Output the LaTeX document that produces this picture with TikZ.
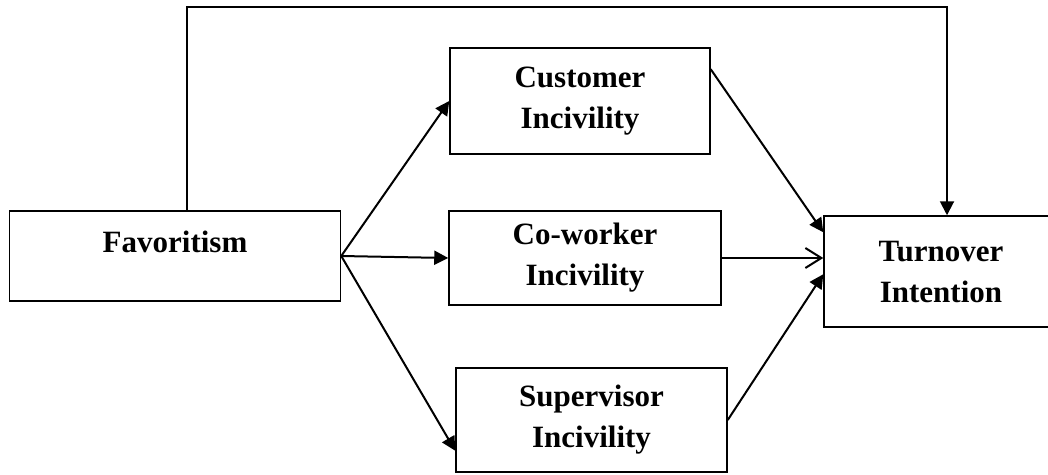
\documentclass[tikz,border=0pt]{standalone}
\usepackage{fontspec}
\setmainfont{Liberation Serif}
\usetikzlibrary{calc}
\usetikzlibrary{arrows.meta}

\begin{document}
\begin{tikzpicture}[x=1pt,y=-1pt,
        box/.style={draw,line width=1.5pt,inner sep=0pt,align=center,
            font=\fontsize{31}{41}\selectfont\bfseries},
        arr/.style={line width=2pt,-{Triangle[length=14pt,width=14pt]}},
        barb/.style={line width=2pt,-{Straight Barb[length=16pt,width=20pt,line width=2pt]}}]
        \useasboundingbox (0,0) rectangle (1048,474);
        \clip (0,0) rectangle (1048,474);

        \node[box,minimum width=331pt,minimum height=90pt,text depth=28pt] (F) at (175,256) {Favoritism};
        \node[box,minimum width=260pt,minimum height=106pt] (CI) at (580,101) {Customer\\Incivility};
        \node[box,minimum width=272pt,minimum height=94pt] (WI) at (585,258) {Co-worker\\Incivility};
        \node[box,minimum width=271pt,minimum height=104pt] (SI) at (591.5,420) {Supervisor\\Incivility};
        \node[box,minimum width=234pt,minimum height=111pt] (TI) at (941,271.5) {Turnover\\Intention};

        \coordinate (TR) at (947,7);

        \draw[arr] (F.east) -- (CI.west);
        \draw[arr] (F.east) -- (WI.west);
        \draw[arr] (F.east) -- ([yshift=22pt]SI.south west);

        \draw[arr] ([yshift=-22pt]CI.north east) -- ([yshift=-17pt]TI.north west);
        \draw[barb] (WI.east) -- (WI.east -| TI.west);
        \draw[arr] (SI.east) -- ([yshift=-59pt]TI.north west);

        \draw[arr] ([xshift=12pt]F.north) |- (TR) -- (TR |- TI.north);
    \end{tikzpicture}
\end{document}
